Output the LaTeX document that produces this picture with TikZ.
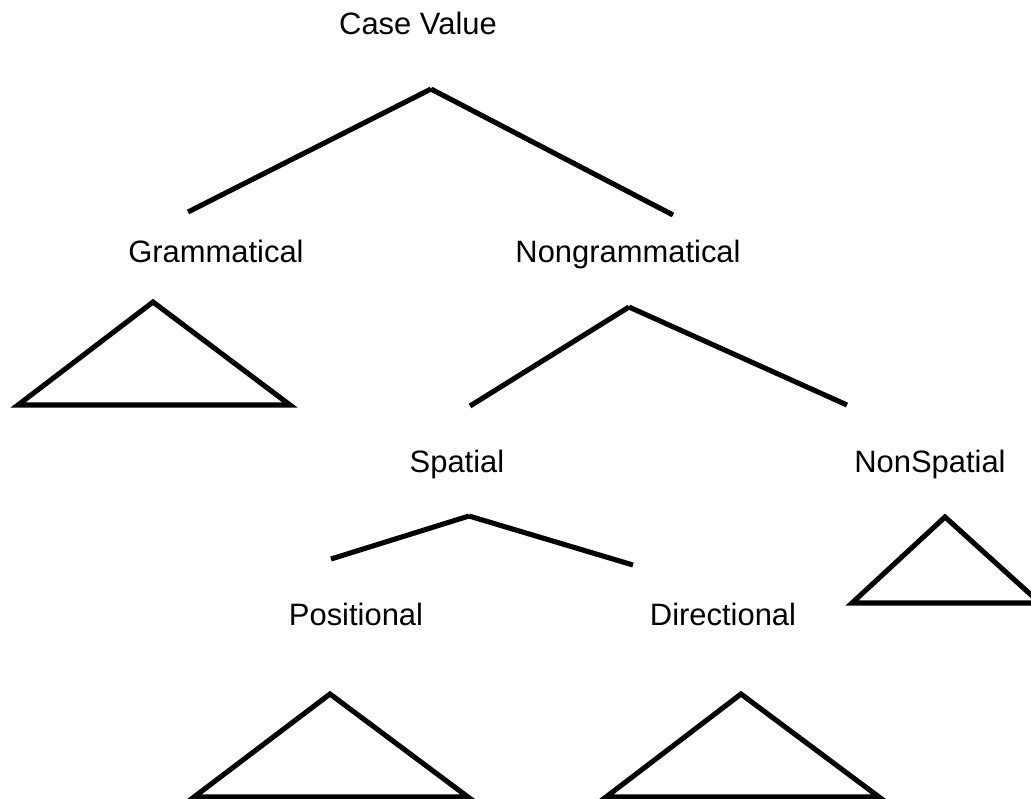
\documentclass[tikz,border=0pt]{standalone}
\usepackage{fontspec}
\setmainfont{Liberation Sans}
\usepackage{tikz}
\tikzset{label/.style = {anchor=base, inner sep=0pt, font=\fontsize{17.6}{20}\selectfont}}
\tikzset{branch/.style = {line width=2.9pt}}
\tikzset{roof/.style = {line width=2.9pt, line join=miter}}

\begin{document}
\begin{tikzpicture}[x=0.02cm, y=-0.02cm]
                \useasboundingbox (0,0) rectangle (1031,798);
                \node[label] (CV) at (418,34) {Case Value};
                \node[label] (G) at (216,262) {Grammatical};
                \node[label] (NG) at (628,262) {Nongrammatical};
                \node[label] (S) at (457,472) {Spatial};
                \node[label] (NS) at (930,472) {NonSpatial};
                \node[label] (P) at (356,625) {Positional};
                \node[label] (D) at (723,625) {Directional};
                \coordinate (CVtop) at (431,89);
                \coordinate (Gend) at (188,212);
                \coordinate (NGend) at (673,215);
                \coordinate (NGtop) at (629,307);
                \coordinate (Send) at (470,406);
                \coordinate (NSend) at (847,405);
                \coordinate (Stop) at (469,516);
                \coordinate (Pend) at (331,559);
                \coordinate (Dend) at (633,565);
                \draw[branch] (CVtop) -- (Gend);
                \draw[branch] (CVtop) -- (NGend);
                \draw[branch] (NGtop) -- (Send);
                \draw[branch] (NGtop) -- (NSend);
                \draw[branch] (Stop) -- (Pend);
                \draw[branch] (Stop) -- (Dend);
                \draw[roof] (153,302) -- (18,405) -- (290,405) -- cycle;
                \draw[roof] (945,517) -- (852,603) -- (1040,603) -- cycle;
                \draw[roof] (330,694) -- (194,797) -- (468,797) -- cycle;
                \draw[roof] (741,694) -- (606,797) -- (879,797) -- cycle;
            \end{tikzpicture}
\end{document}
